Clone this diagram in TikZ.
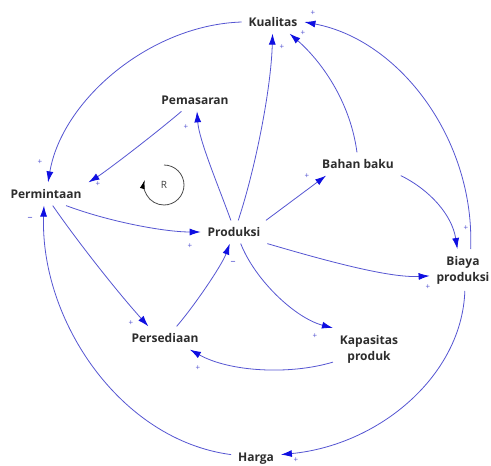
\documentclass[tikz,border=0pt]{standalone}
\usepackage{fontspec}
\setsansfont{Open Sans}
\usepackage{xcolor}
\definecolor{linkblue}{RGB}{85,85,210}
\definecolor{tipblue}{RGB}{15,15,225}
\definecolor{textgray}{RGB}{45,45,45}
\usepackage{tikz}
\usetikzlibrary{
  arrows.meta,
  calc
}

\begin{document}
\begin{tikzpicture}[
    x=1pt, y=-1pt,
    var/.style={
      inner sep=3pt, outer sep=4pt, align=center,
      font=\sffamily\bfseries\fontsize{12}{16}\selectfont, text=textgray
    },
    link/.style={
      draw=linkblue, line width=0.8pt,
      -{Latex[length=11pt,width=7pt,color=tipblue]}
    },
    sgn/.style={
      font=\sffamily\fontsize{8}{8}\selectfont, text=linkblue, inner sep=0pt
    },
    loopline/.style={
      draw=black!70, line width=0.8pt,
      -{Latex[length=9pt,width=5pt,color=black]}
    }
  ]

  \useasboundingbox[fill=white] (0,0) rectangle (491,466);

  %% Variables
  \node[var] (kualitas)   at (273,22)  {Kualitas};
  \node[var] (pemasaran)  at (195,100) {Pemasaran};
  \node[var] (permintaan) at (46,194)  {Permintaan};
  \node[var] (produksi)   at (234,232) {Produksi};
  \node[var] (bahan)      at (358,164) {Bahan baku};
  \node[var] (biaya)      at (463,270) {Biaya\\produksi};
  \node[var] (persediaan) at (165,338) {Persediaan};
  \node[var] (kapasitas)  at (369,349) {Kapasitas\\produk};
  \node[var] (harga)      at (256,459) {Harga};

  %% Causal links
  \draw[link] (kualitas.west) .. controls (150,25) and (62,100) .. (permintaan.80);
  \draw[link] (pemasaran.220) .. controls (150,138) and (105,172) .. (permintaan.north east);
  \draw[link] (produksi.105) .. controls (218,185) and (199,140) .. (pemasaran.-80);
  \draw[link] (produksi.70) .. controls (255,170) and (271,90) .. (kualitas.-92);
  \draw[link] (bahan.95) .. controls (350,100) and (320,60) .. (kualitas.-35);
  \draw[link] (biaya.70) .. controls (475,140) and (400,40) .. (kualitas.east);
  \draw[link] (produksi.20) -- (bahan.200);
  \draw[link] (bahan.south east) .. controls (430,190) and (452,215) .. (biaya.105);
  \draw[link] (produksi.south east) .. controls (330,262) and (390,278) .. (biaya.190);
  \draw[link] (permintaan.-30) .. controls (110,222) and (165,232) .. (produksi.west);
  \draw[link] (permintaan.-60) .. controls (80,245) and (120,295) .. (persediaan.145);
  \draw[link] (persediaan.45) .. controls (195,305) and (222,265) .. (produksi.-110);
  \draw[link] (produksi.-60) .. controls (255,280) and (295,318) .. (kapasitas.north west);
  \draw[link] (kapasitas.200) .. controls (290,375) and (230,372) .. (persediaan.-25);
  \draw[link] (harga.170) .. controls (120,440) and (40,320) .. (permintaan.-100);
  \draw[link] (biaya.-85) .. controls (462,375) and (380,445) .. (harga.10);

  %% Polarity signs
  \node[sgn] (s1)  at (313,13)  {+};
  \node[sgn] (s2)  at (303,33)  {+};
  \node[sgn] (s3)  at (282,47)  {+};
  \node[sgn] (s4)  at (186,127) {+};
  \node[sgn] (s5)  at (40,162)  {+};
  \node[sgn] (s6)  at (98,184)  {+};
  \node[sgn] (s7)  at (30,219)  {\fontsize{10}{10}\selectfont\textendash};
  \node[sgn] (s8)  at (307,176) {+};
  \node[sgn] (s9)  at (466,228) {+};
  \node[sgn] (s10) at (428,287) {+};
  \node[sgn] (s11) at (190,246) {+};
  \node[sgn] (s12) at (233,263) {\fontsize{10}{10}\selectfont\textendash};
  \node[sgn] (s13) at (131,323) {+};
  \node[sgn] (s14) at (198,368) {+};
  \node[sgn] (s15) at (315,336) {+};
  \node[sgn] (s16) at (296,460) {+};

  %% Reinforcing loop
  \node[font=\sffamily\fontsize{10}{10}\selectfont, text=black!75] (loopR) at (164,185) {R};
  \draw[loopline] ($(loopR)+(0,-20)$) arc[start angle=-90, end angle=195, radius=20];

\end{tikzpicture}
\end{document}
